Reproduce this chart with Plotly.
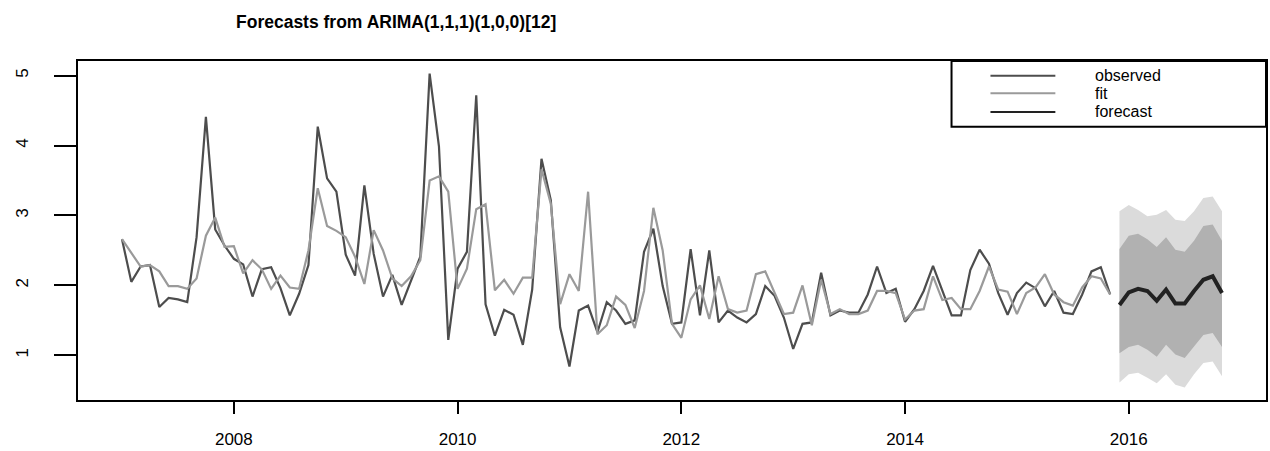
import plotly.graph_objects as go

# Monthly series starting January 2007
START_YEAR = 2007

observed = [
    2.66, 2.05, 2.27, 2.29, 1.69, 1.82, 1.80, 1.76, 2.69, 4.41, 2.80, 2.57,
    2.38, 2.30, 1.84, 2.23, 2.26, 1.96, 1.57, 1.88, 2.29, 4.27, 3.53, 3.34,
    2.44, 2.14, 3.43, 2.45, 1.84, 2.15, 1.72, 2.08, 2.41, 5.03, 3.99, 1.22,
    2.24, 2.48, 4.72, 1.73, 1.28, 1.65, 1.58, 1.15, 1.94, 3.81, 3.22, 1.40,
    0.84, 1.64, 1.71, 1.33, 1.76, 1.64, 1.45, 1.50, 2.48, 2.81, 1.99, 1.45,
    1.47, 2.52, 1.57, 2.50, 1.47, 1.64, 1.54, 1.47, 1.59, 1.99, 1.85, 1.54,
    1.09, 1.45, 1.47, 2.18, 1.57, 1.64, 1.61, 1.61, 1.87, 2.27, 1.89, 1.95,
    1.48, 1.66, 1.92, 2.28, 1.92, 1.57, 1.57, 2.22, 2.51, 2.31, 1.89, 1.58,
    1.89, 2.04, 1.96, 1.70, 1.92, 1.61, 1.59, 1.87, 2.20, 2.26, 1.87,
]

fitted = [
    2.66, 2.47, 2.27, 2.29, 2.20, 1.99, 1.99, 1.95, 2.10, 2.71, 2.97, 2.55,
    2.56, 2.17, 2.36, 2.23, 1.95, 2.14, 1.97, 1.95, 2.50, 3.39, 2.85, 2.78,
    2.69, 2.41, 2.02, 2.79, 2.50, 2.10, 1.99, 2.13, 2.36, 3.50, 3.56, 3.34,
    1.95, 2.24, 3.09, 3.16, 1.93, 2.08, 1.88, 2.11, 2.11, 3.66, 3.17, 1.73,
    2.16, 1.92, 3.34, 1.30, 1.43, 1.84, 1.72, 1.39, 1.92, 3.11, 2.50, 1.45,
    1.25, 1.80, 2.00, 1.52, 2.13, 1.66, 1.61, 1.64, 2.16, 2.20, 1.89, 1.59,
    1.61, 2.00, 1.43, 2.08, 1.59, 1.66, 1.59, 1.59, 1.64, 1.92, 1.92, 1.89,
    1.51, 1.64, 1.66, 2.13, 1.79, 1.82, 1.66, 1.66, 1.92, 2.27, 1.94, 1.91,
    1.59, 1.89, 1.97, 2.16, 1.87, 1.76, 1.71, 1.97, 2.13, 2.10, 1.87,
]

# 12-month forecast with 80% and 95% intervals
fc_mean = [1.72, 1.90, 1.95, 1.92, 1.78, 1.94, 1.74, 1.74, 1.92, 2.08, 2.13, 1.89]
hi80 = [2.52, 2.71, 2.74, 2.66, 2.55, 2.69, 2.51, 2.48, 2.64, 2.85, 2.87, 2.64]
lo80 = [1.03, 1.12, 1.15, 1.08, 0.98, 1.15, 1.01, 0.96, 1.12, 1.29, 1.32, 1.12]
hi95 = [3.06, 3.15, 3.08, 2.99, 3.01, 3.08, 2.94, 2.92, 3.06, 3.25, 3.27, 3.06]
lo95 = [0.61, 0.73, 0.75, 0.68, 0.60, 0.73, 0.58, 0.54, 0.73, 0.89, 0.91, 0.70]

x_tick_years = [2008, 2010, 2012, 2014, 2016]
y_tick_values = [1, 2, 3, 4, 5]

TITLE = "Forecasts from ARIMA(1,1,1)(1,0,0)[12]"
LEGEND_LABELS = ["observed", "fit", "forecast"]

C_OBS = "#4d4d4d"
C_FIT = "#9a9a9a"
C_FC = "#222222"
C_BAND95 = "#dbdbdb"
C_BAND80 = "#b1b1b1"
FONT = "Liberation Sans, Arial, sans-serif"

t_obs = [START_YEAR + i / 12 for i in range(len(observed))]
t_fc = [t_obs[-1] + (i + 1) / 12 for i in range(len(fc_mean))]

fig = go.Figure()

# prediction bands (95% underneath, 80% on top)
for lo, hi, col in [(lo95, hi95, C_BAND95), (lo80, hi80, C_BAND80)]:
    fig.add_trace(go.Scatter(
        x=t_fc + t_fc[::-1], y=hi + lo[::-1], fill="toself", fillcolor=col,
        line=dict(width=0, color=col), mode="lines", hoverinfo="skip",
        showlegend=False))

fig.add_trace(go.Scatter(x=t_obs, y=observed, mode="lines",
                         line=dict(color=C_OBS, width=2.2), showlegend=False))
fig.add_trace(go.Scatter(x=t_obs, y=fitted, mode="lines",
                         line=dict(color=C_FIT, width=2.2), showlegend=False))
fig.add_trace(go.Scatter(x=t_fc, y=fc_mean, mode="lines",
                         line=dict(color=C_FC, width=4), showlegend=False))

# axis limits with 4% padding around the data
x_lo, x_hi = t_obs[0], t_fc[-1]
y_lo = min(lo95 + observed + fitted)
y_hi = max(hi95 + observed + fitted)
px_ = 0.04 * (x_hi - x_lo)
py_ = 0.04 * (y_hi - y_lo)

W, H = 1270, 451
ML, MR, MT, MB = 78, 2, 61, 44
PW, PH = W - ML - MR, H - MT - MB


def paper_x(px):
    return (px - ML) / PW


def paper_y(py):
    return (H - MB - py) / PH


axis_common = dict(
    showgrid=False, zeroline=False, showline=True, linecolor="black",
    linewidth=2, mirror=True, ticks="outside", tickcolor="black",
    tickwidth=2, tickfont=dict(family=FONT, size=17, color="black"),
)

fig.update_xaxes(range=[x_lo - px_, x_hi + px_], tickvals=x_tick_years,
                 ticktext=[str(v) for v in x_tick_years], ticklen=12,
                 ticklabelstandoff=11, **axis_common)
fig.update_yaxes(range=[y_lo - py_, y_hi + py_], tickvals=y_tick_values,
                 ticktext=[str(v) for v in y_tick_values], ticklen=22,
                 tickangle=-90, ticklabelstandoff=19, **axis_common)

# legend box drawn by hand in the top-right corner
shapes = [dict(type="rect", xref="paper", yref="paper",
               x0=paper_x(953), x1=1.0, y0=paper_y(128), y1=1.0,
               line=dict(color="black", width=2), fillcolor="white", layer="above")]
annotations = []
rows_y = [76, 94, 113]
for label, col, yy in zip(LEGEND_LABELS, [C_OBS, C_FIT, C_FC], rows_y):
    shapes.append(dict(type="line", xref="paper", yref="paper",
                       x0=paper_x(992), x1=paper_x(1057),
                       y0=paper_y(yy), y1=paper_y(yy),
                       line=dict(color=col, width=2), layer="above"))
    annotations.append(dict(text=label, xref="paper", yref="paper",
                            x=paper_x(1095), y=paper_y(yy), xanchor="left",
                            yanchor="middle", showarrow=False,
                            font=dict(family=FONT, size=16, color="black")))

annotations.append(dict(text="<b>" + TITLE + "</b>", xref="paper", yref="paper",
                        x=paper_x(397), y=paper_y(21), xanchor="center",
                        yanchor="middle", showarrow=False,
                        font=dict(family=FONT, size=17.5, color="black")))

fig.update_layout(
    width=W, height=H, margin=dict(l=ML, r=MR, t=MT, b=MB),
    paper_bgcolor="white", plot_bgcolor="white",
    shapes=shapes, annotations=annotations, showlegend=False,
)

fig.write_html("out.html")
